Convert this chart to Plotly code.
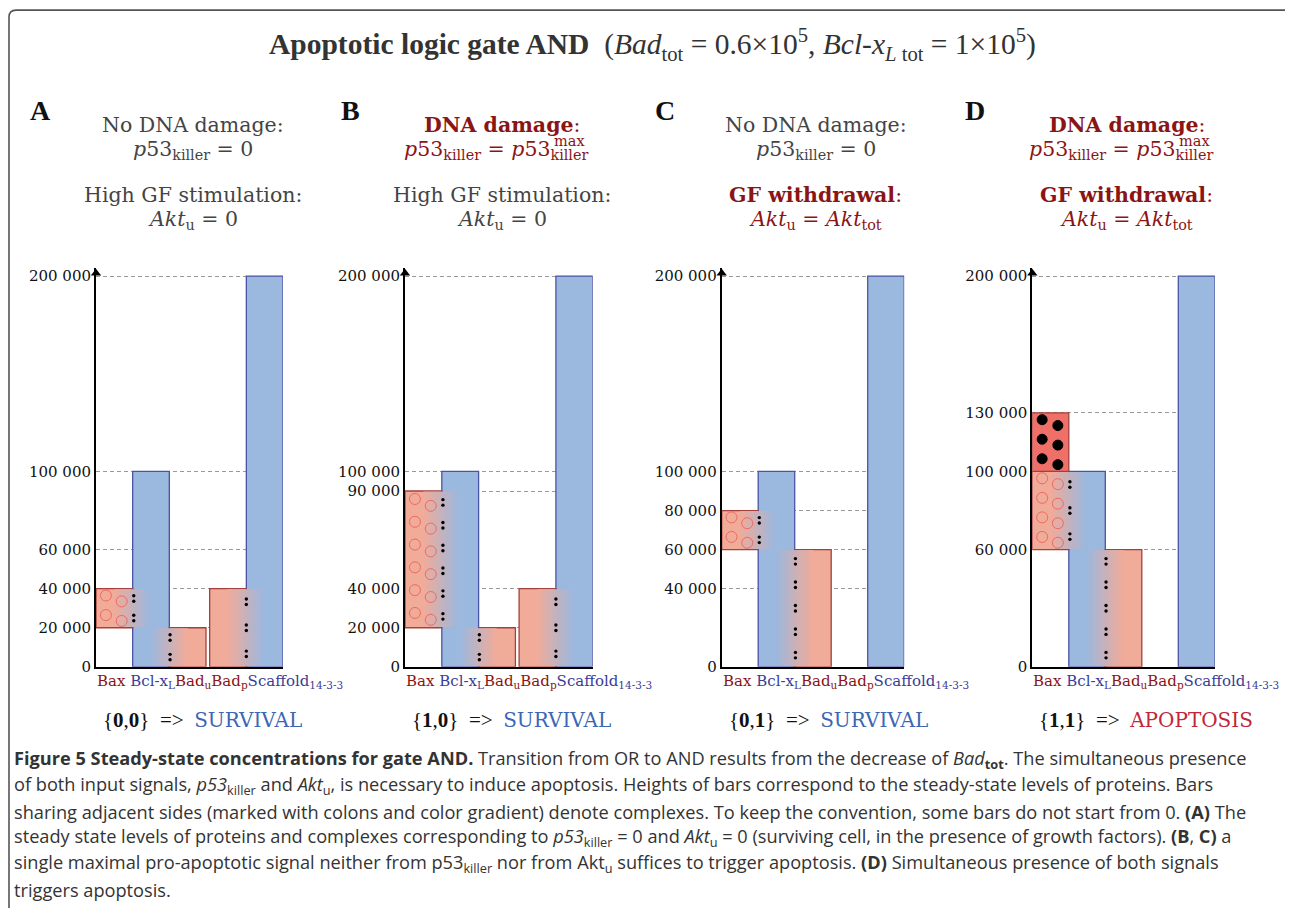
import math
import plotly.graph_objects as go

W, H = 1293, 916
OFF = 8          # default body margin of the page
V_SCALE = 0.99   # vertical squeeze seen in the captured page

panels = ['A', 'B', 'C', 'D']
p53_signal = [0, 1, 0, 1]
akt_signal = [0, 0, 1, 1]
outcome = ['SURVIVAL', 'SURVIVAL', 'SURVIVAL', 'APOPTOSIS']

# steady-state levels per panel
bad_u_bcl = [20000, 20000, 60000, 60000]       # Bad_u:Bcl-xL complex
bax_bcl = [20000, 70000, 20000, 40000]         # Bax:Bcl-xL complex
bax_free = [0, 0, 0, 30000]
bcl_free = [60000, 10000, 20000, 0]
bad_p_scaffold = [40000, 40000, 0, 0]          # Bad_p:14-3-3 complex
scaffold_free = [160000, 160000, 200000, 200000]

tick_vals = [
    [0, 20000, 40000, 60000, 100000, 200000],
    [0, 20000, 40000, 90000, 100000, 200000],
    [0, 40000, 60000, 80000, 100000, 200000],
    [0, 60000, 100000, 130000, 200000],
]

BLUE = '#9BB8DF'
BLUE_LINE = '#4B53A4'
SALMON = '#F1AB99'
RED_FREE = '#EE7068'
RED_LINE = '#A5403C'
DARK_RED = '#8B1414'
GREY_TXT = '#444444'
SERIF = 'DejaVu Serif'

# panel placement in window pixels
x_px = [(96, 283), (405, 592.7), (721.7, 904.2), (1032.3, 1214.8)]
y_bottom_px, y_top_px = 667, 268
Y_TOP = 204000

FW, FH = W - 2 * OFF, H - 2 * OFF


def px(x):
    return (x - OFF) / FW


def py(y):
    page = (y - 0.5) / V_SCALE
    return 1 - (page - OFF) / FH


def hexmix(c0, c1, t):
    a = [int(c0[i:i + 2], 16) for i in (1, 3, 5)]
    b = [int(c1[i:i + 2], 16) for i in (1, 3, 5)]
    return 'rgb(%d,%d,%d)' % tuple(round(a[j] + (b[j] - a[j]) * t) for j in range(3))


fig = go.Figure()


def add_bar(k, xc, lo, hi, fill, line):
    fig.add_trace(go.Bar(
        x=[xc], base=[lo], y=[hi - lo], width=[1],
        marker=dict(color=fill, line=dict(color=line, width=1.3)),
        xaxis='x' + k, yaxis='y' + k, showlegend=False, hoverinfo='skip'))


def add_gradient(k, x0, x1, lo, hi, c0, c1, n=36):
    inset = 380
    w = (x1 - x0) / n
    xs = [x0 + (j + 0.5) * w for j in range(n)]
    cols = [hexmix(c0, c1, (j + 0.5) / n) for j in range(n)]
    fig.add_trace(go.Bar(
        x=xs, base=[lo + inset] * n, y=[hi - lo - 2 * inset] * n, width=[w * 1.2] * n,
        marker=dict(color=cols, line=dict(width=0)),
        xaxis='x' + k, yaxis='y' + k, showlegend=False, hoverinfo='skip'))


def add_colons(k, xb, lo, hi):
    n = max(1, round((hi - lo) / 12500))
    step = (hi - lo) / n
    ys, xs = [], []
    for j in range(n):
        yc = lo + (j + 0.5) * step
        ys += [yc - 1400, yc + 1400]
        xs += [xb, xb]
    fig.add_trace(go.Scatter(
        x=xs, y=ys, mode='markers', marker=dict(size=3.4, color='black'),
        xaxis='x' + k, yaxis='y' + k, showlegend=False, hoverinfo='skip'))


def add_spots(k, xl, lo, hi, symbol, color, size):
    n = math.ceil((hi - lo) / 11700)
    step = (hi - lo) / n
    xs, ys = [], []
    for j in range(n):
        xs += [xl + 0.27, xl + 0.70]
        ys += [hi - step * (j + 0.35), hi - step * (j + 0.65)]
    fig.add_trace(go.Scatter(
        x=xs, y=ys, mode='markers',
        marker=dict(symbol=symbol, size=size, color=color, line=dict(width=1, color=color)),
        xaxis='x' + k, yaxis='y' + k, showlegend=False, hoverinfo='skip'))


layout = {}
annotations = []
letter_x = [40, 350, 665, 975]


def note(text, x, y, size, family=SERIF, xanchor='center', color=None):
    f = dict(family=family, size=size)
    if color:
        f['color'] = color
    annotations.append(dict(
        text=text, x=px(x), y=py(y), xref='paper', yref='paper',
        xanchor=xanchor, yanchor='middle', showarrow=False, font=f))


for i, name in enumerate(panels):
    k = '' if i == 0 else str(i + 1)
    gap = 0.1 if bad_p_scaffold[i] else 0
    lefts = [0, 1, 2, 3 + gap, 4 + gap]
    cen = [l + 0.5 for l in lefts]

    bcl_top = bad_u_bcl[i] + bax_bcl[i] + bcl_free[i]
    bax_lo = bad_u_bcl[i]
    bax_mid = bax_lo + bax_bcl[i]
    bax_hi = bax_mid + bax_free[i]
    scaf_top = bad_p_scaffold[i] + scaffold_free[i]

    add_bar(k, cen[1], 0, bcl_top, BLUE, BLUE_LINE)
    add_bar(k, cen[4], 0, scaf_top, BLUE, BLUE_LINE)
    if bax_bcl[i]:
        add_bar(k, cen[0], bax_lo, bax_mid, SALMON, RED_LINE)
    if bax_free[i]:
        add_bar(k, cen[0], bax_mid, bax_hi, RED_FREE, RED_LINE)
    if bad_u_bcl[i]:
        add_bar(k, cen[2], 0, bad_u_bcl[i], SALMON, RED_LINE)
    if bad_p_scaffold[i]:
        add_bar(k, cen[3], 0, bad_p_scaffold[i], SALMON, RED_LINE)

    # complexes: gradient across the shared side
    if bax_bcl[i]:
        add_gradient(k, cen[0], cen[1], bax_lo, bax_mid, SALMON, BLUE)
    if bad_u_bcl[i]:
        add_gradient(k, cen[1], cen[2], 0, bad_u_bcl[i], BLUE, SALMON)
    if bad_p_scaffold[i]:
        add_gradient(k, cen[3], cen[4], 0, bad_p_scaffold[i], SALMON, BLUE)

    if bax_bcl[i]:
        add_spots(k, lefts[0], bax_lo, bax_mid, 'circle-open', '#EC6B62', 11)
        add_colons(k, lefts[1] + 0.03, bax_lo, bax_mid)
    if bax_free[i]:
        add_spots(k, lefts[0], bax_mid, bax_hi, 'circle', 'black', 10)
    if bad_u_bcl[i]:
        add_colons(k, lefts[2] + 0.02, 0, bad_u_bcl[i])
    if bad_p_scaffold[i]:
        add_colons(k, lefts[4], 0, bad_p_scaffold[i])

    # axis arrow head
    fig.add_trace(go.Scatter(
        x=[0], y=[Y_TOP - 2500], mode='markers', cliponaxis=False,
        marker=dict(symbol='triangle-up', size=9, color='black'),
        xaxis='x' + k, yaxis='y' + k, showlegend=False, hoverinfo='skip'))

    x0, x1 = x_px[i]
    layout['xaxis' + k] = dict(
        domain=[px(x0), px(x1)], range=[0, 5 + gap], anchor='y' + k,
        showline=True, linecolor='black', linewidth=2, showgrid=False,
        zeroline=False, showticklabels=False, ticks='')
    layout['yaxis' + k] = dict(
        domain=[py(y_bottom_px), py(y_top_px)], range=[0, Y_TOP], anchor='x' + k,
        showline=True, linecolor='black', linewidth=2,
        showgrid=True, gridcolor='#9A9A9A', griddash='4px,3px', gridwidth=1,
        zeroline=False, ticks='',
        tickvals=tick_vals[i],
        ticktext=[f'{v:,}'.replace(',', ' ') for v in tick_vals[i]],
        tickfont=dict(family=SERIF, size=15, color='#111111'))

    xc = (x0 + x1) / 2 + 3
    note(f'<b>{name}</b>', letter_x[i], 110, 28, family='Liberation Serif', color='#111111')

    if p53_signal[i]:
        note(f'<span style="color:{DARK_RED}"><b>DNA damage</b>:</span>', xc, 125, 20.5)
        # p53_killer = p53_killer^max, with "max" stacked over the last subscript
        right = xc + 88
        note(f'<span style="color:{DARK_RED}"><i>p</i>53<sub>killer</sub> = '
             f'<i>p</i>53<sub>killer</sub></span>', right, 150, 20.5, xanchor='right')
        note(f'<span style="color:{DARK_RED}">max</span>', right - 38, 141, 14.5, xanchor='left')
    else:
        note(f'<span style="color:{GREY_TXT}">No DNA damage:</span>', xc, 125, 20.5)
        note(f'<span style="color:{GREY_TXT}"><i>p</i>53<sub>killer</sub> = 0</span>', xc, 150, 20.5)
    if akt_signal[i]:
        note(f'<span style="color:{DARK_RED}"><b>GF withdrawal</b>:</span>', xc, 195, 20.5)
        note(f'<span style="color:{DARK_RED}"><i>Akt</i><sub>u</sub> = '
             f'<i>Akt</i><sub>tot</sub></span>', xc, 220, 20.5)
    else:
        note(f'<span style="color:{GREY_TXT}">High GF stimulation:</span>', xc, 195, 20.5)
        note(f'<span style="color:{GREY_TXT}"><i>Akt</i><sub>u</sub> = 0</span>', xc, 220, 20.5)

    # protein labels under the axis
    lab = (f'<span style="color:{DARK_RED}">Bax</span> '
           f'<span style="color:#3B3B98">Bcl-x<sub>L</sub></span>'
           f'<span style="color:{DARK_RED}">Bad<sub>u</sub></span>'
           f'<span style="color:{DARK_RED}">Bad<sub>p</sub></span>'
           f'<span style="color:#3B3B98">Scaffold<sub>14-3-3</sub></span>')
    note(lab, x0 - 1, 682, 15, xanchor='left')

    res_col = '#C0283A' if outcome[i] == 'APOPTOSIS' else '#3D66B4'
    res = (f'<span style="color:#111111;font-family:Liberation Serif;font-size:21px">'
           f'{{<b>{p53_signal[i]}</b>,<b>{akt_signal[i]}</b>}}  =>  </span>'
           f'<span style="color:{res_col}">{outcome[i]}</span>')
    note(res, x0 + 5, 720, 20, xanchor='left')

# title
note(('<b>Apoptotic logic gate AND</b>  (<i>Bad</i><sub>tot</sub> = 0.6×10<sup>5</sup>, '
      '<i>Bcl-x<sub>L</sub></i><sub> tot</sub> = 1×10<sup>5</sup>)'),
     652, 44, 29.5, family='Liberation Serif', color='#333333')

caption = [
    '<b>Figure 5 Steady-state concentrations for gate AND.</b> Transition from OR to AND results '
    'from the decrease of <i>Bad</i><sub><b>tot</b></sub>. The simultaneous presence',
    'of both input signals, <i>p53</i><sub>killer</sub> and <i>Akt</i><sub>u</sub>, is necessary to '
    'induce apoptosis. Heights of bars correspond to the steady-state levels of proteins. Bars',
    'sharing adjacent sides (marked with colons and color gradient) denote complexes. To keep the '
    'convention, some bars do not start from 0. <b>(A)</b> The',
    'steady state levels of proteins and complexes corresponding to <i>p53</i><sub>killer</sub> = 0 '
    'and <i>Akt</i><sub>u</sub> = 0 (surviving cell, in the presence of growth factors). '
    '<b>(B</b>, <b>C)</b> a',
    'single maximal pro-apoptotic signal neither from p53<sub>killer</sub> nor from Akt<sub>u</sub> '
    'suffices to trigger apoptosis. <b>(D)</b> Simultaneous presence of both signals',
    'triggers apoptosis.',
]
for j, line in enumerate(caption):
    note(line, 12, 760 + 26 * j, 18.2, family='Open Sans', xanchor='left', color='#333333')

# rounded frame on top/left
r = 7
fx, fy = 9, 9.5
frame = (f'M {px(W)},{py(fy)} L {px(fx + r)},{py(fy)} '
         f'Q {px(fx)},{py(fy)} {px(fx)},{py(fy + r)} L {px(fx)},{py(H)}')

fig.update_layout(
    width=FW, height=FH, autosize=False,
    margin=dict(l=0, r=0, t=0, b=0),
    paper_bgcolor='white', plot_bgcolor='white',
    barmode='overlay', showlegend=False,
    annotations=annotations,
    shapes=[dict(type='path', path=frame, xref='paper', yref='paper',
                 line=dict(color='#555555', width=1.6))],
    **layout)

fig.write_html('out.html')
